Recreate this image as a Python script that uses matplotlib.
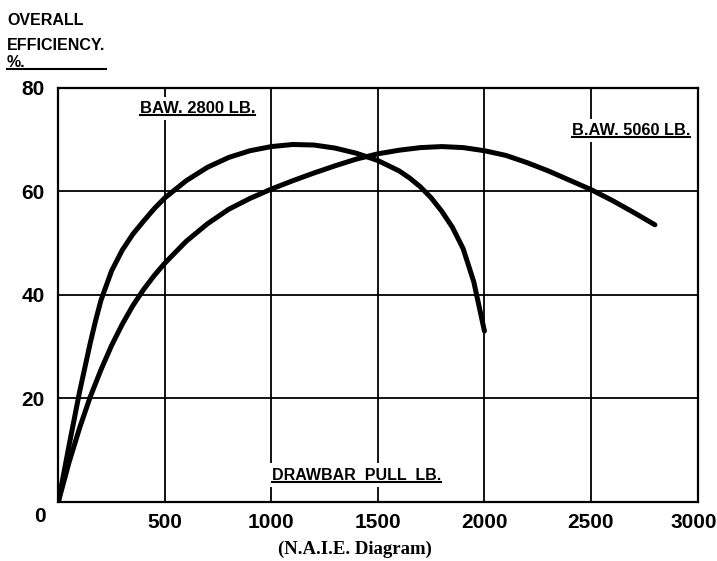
import numpy as np
import matplotlib
matplotlib.use('Agg')
import matplotlib.pyplot as plt
import matplotlib.transforms as mtransforms
from matplotlib.lines import Line2D

plt.rcParams['font.family'] = ['Liberation Sans', 'DejaVu Sans']
plt.rcParams['font.weight'] = 'bold'

# drawbar pull (lb) vs overall efficiency (%)
pull_2800 = [0, 50, 100, 150, 175, 200, 250, 300, 350, 400, 450, 500, 600, 700, 800,
             900, 1000, 1100, 1200, 1300, 1400, 1500, 1600, 1650, 1700, 1750, 1800,
             1850, 1900, 1950, 2000]
eff_2800 = [0, 10.8, 21.3, 30.7, 35, 38.9, 44.6, 48.6, 51.7, 54.2, 56.6, 58.7, 62.0,
            64.6, 66.5, 67.8, 68.6, 69.0, 68.9, 68.3, 67.3, 65.9, 63.9, 62.5, 60.8,
            58.7, 56.1, 53.0, 48.9, 42.5, 33]

pull_5060 = [0, 50, 100, 150, 200, 250, 300, 350, 400, 450, 500, 600, 700, 800, 900,
             1000, 1100, 1200, 1300, 1400, 1500, 1600, 1700, 1800, 1900, 2000, 2100,
             2200, 2300, 2400, 2500, 2600, 2700, 2800]
eff_5060 = [0, 7.6, 14.3, 20.3, 25.5, 30.2, 34.3, 37.9, 41.0, 43.7, 46.1, 50.3, 53.7,
            56.5, 58.6, 60.4, 62.0, 63.5, 64.9, 66.2, 67.2, 67.9, 68.4, 68.6, 68.4,
            67.8, 66.9, 65.5, 63.9, 62.1, 60.3, 58.2, 55.9, 53.5]

x_ticks = [0, 500, 1000, 1500, 2000, 2500, 3000]
x_labels = ['', '500', '1000', '1500', '2000', '2500', '3000']
y_ticks = [0, 20, 40, 60, 80]
y_labels = ['', '20', '40', '60', '80']

W, H = 717, 561
fig = plt.figure(figsize=(W/100., H/100.), dpi=100)
ax = fig.add_axes([58.3/W, 1 - 502./H, (697.5 - 58.3)/W, (502. - 87.5)/H])

ax.plot(pull_2800, eff_2800, color='black', lw=3.6, solid_capstyle='round',
        solid_joinstyle='round', zorder=2)
ax.plot(pull_5060, eff_5060, color='black', lw=3.6, solid_capstyle='round',
        solid_joinstyle='round', zorder=2)

ax.set_xlim(0, 3000)
ax.set_ylim(0, 80)
ax.set_xticks(x_ticks)
ax.set_xticklabels(x_labels)
ax.set_yticks(y_ticks)
ax.set_yticklabels(y_labels)
ax.tick_params(length=0, labelsize=15)
ax.tick_params(axis='x', pad=8)
ax.tick_params(axis='y', pad=10)
ax.set_axisbelow(True)
ax.grid(True, color='black', lw=1.3)
for s in ax.spines.values():
  s.set_linewidth(1.6)

# last x label sits a bit inside the frame
last = ax.get_xticklabels()[-1]
last.set_transform(last.get_transform() +
                   mtransforms.ScaledTranslation(-0.04, 0, fig.dpi_scale_trans))

# corner zero
ax.annotate('0', xy=(0, 0), xytext=(-13, -14), textcoords='offset pixels',
            ha='right', va='center', fontsize=15)

box = dict(facecolor='white', edgecolor='none', pad=3)
lab1 = ax.text(383, 75.9, 'BAW. 2800 LB.', fontsize=12, ha='left', va='center',
               bbox=box, zorder=3)
lab2 = ax.text(2409, 71.7, 'B.AW. 5060 LB.', fontsize=11.8, ha='left', va='center',
               bbox=box, zorder=3)
lab3 = ax.text(1001, 5.2, 'DRAWBAR  PULL  LB.', fontsize=11.5, ha='left', va='center',
               bbox=box, zorder=3)

t1 = fig.text(7./W, 1 - 25./H, 'OVERALL', fontsize=11.5, va='baseline')
t2 = fig.text(7./W, 1 - 50./H, 'EFFICIENCY.', fontsize=11.5, va='baseline')
t3 = fig.text(7./W, 1 - 67./H, '%.', fontsize=11.5, va='baseline')

fig.text(355./W, 1 - 549./H, '(N.A.I.E. Diagram)', fontsize=13.5, ha='center',
         va='center', family='Liberation Serif', weight='bold')

# underlines
fig.canvas.draw()
inv = fig.transFigure.inverted()
def underline(x0, x1, y):
  (a, b), (c, d) = inv.transform([(x0, y), (x1, y)])
  fig.add_artist(Line2D([a, c], [b, d], color='black', lw=1.5, zorder=5))

for t in [lab1, lab2, lab3]:
  bb = t.get_window_extent()
  underline(bb.x0, bb.x1, bb.y0 + 1)

bb2 = t2.get_window_extent()
bb3 = t3.get_window_extent()
underline(bb2.x0, bb2.x1 + 1, bb3.y0 + 1)

fig.savefig('out.png', dpi=100)
